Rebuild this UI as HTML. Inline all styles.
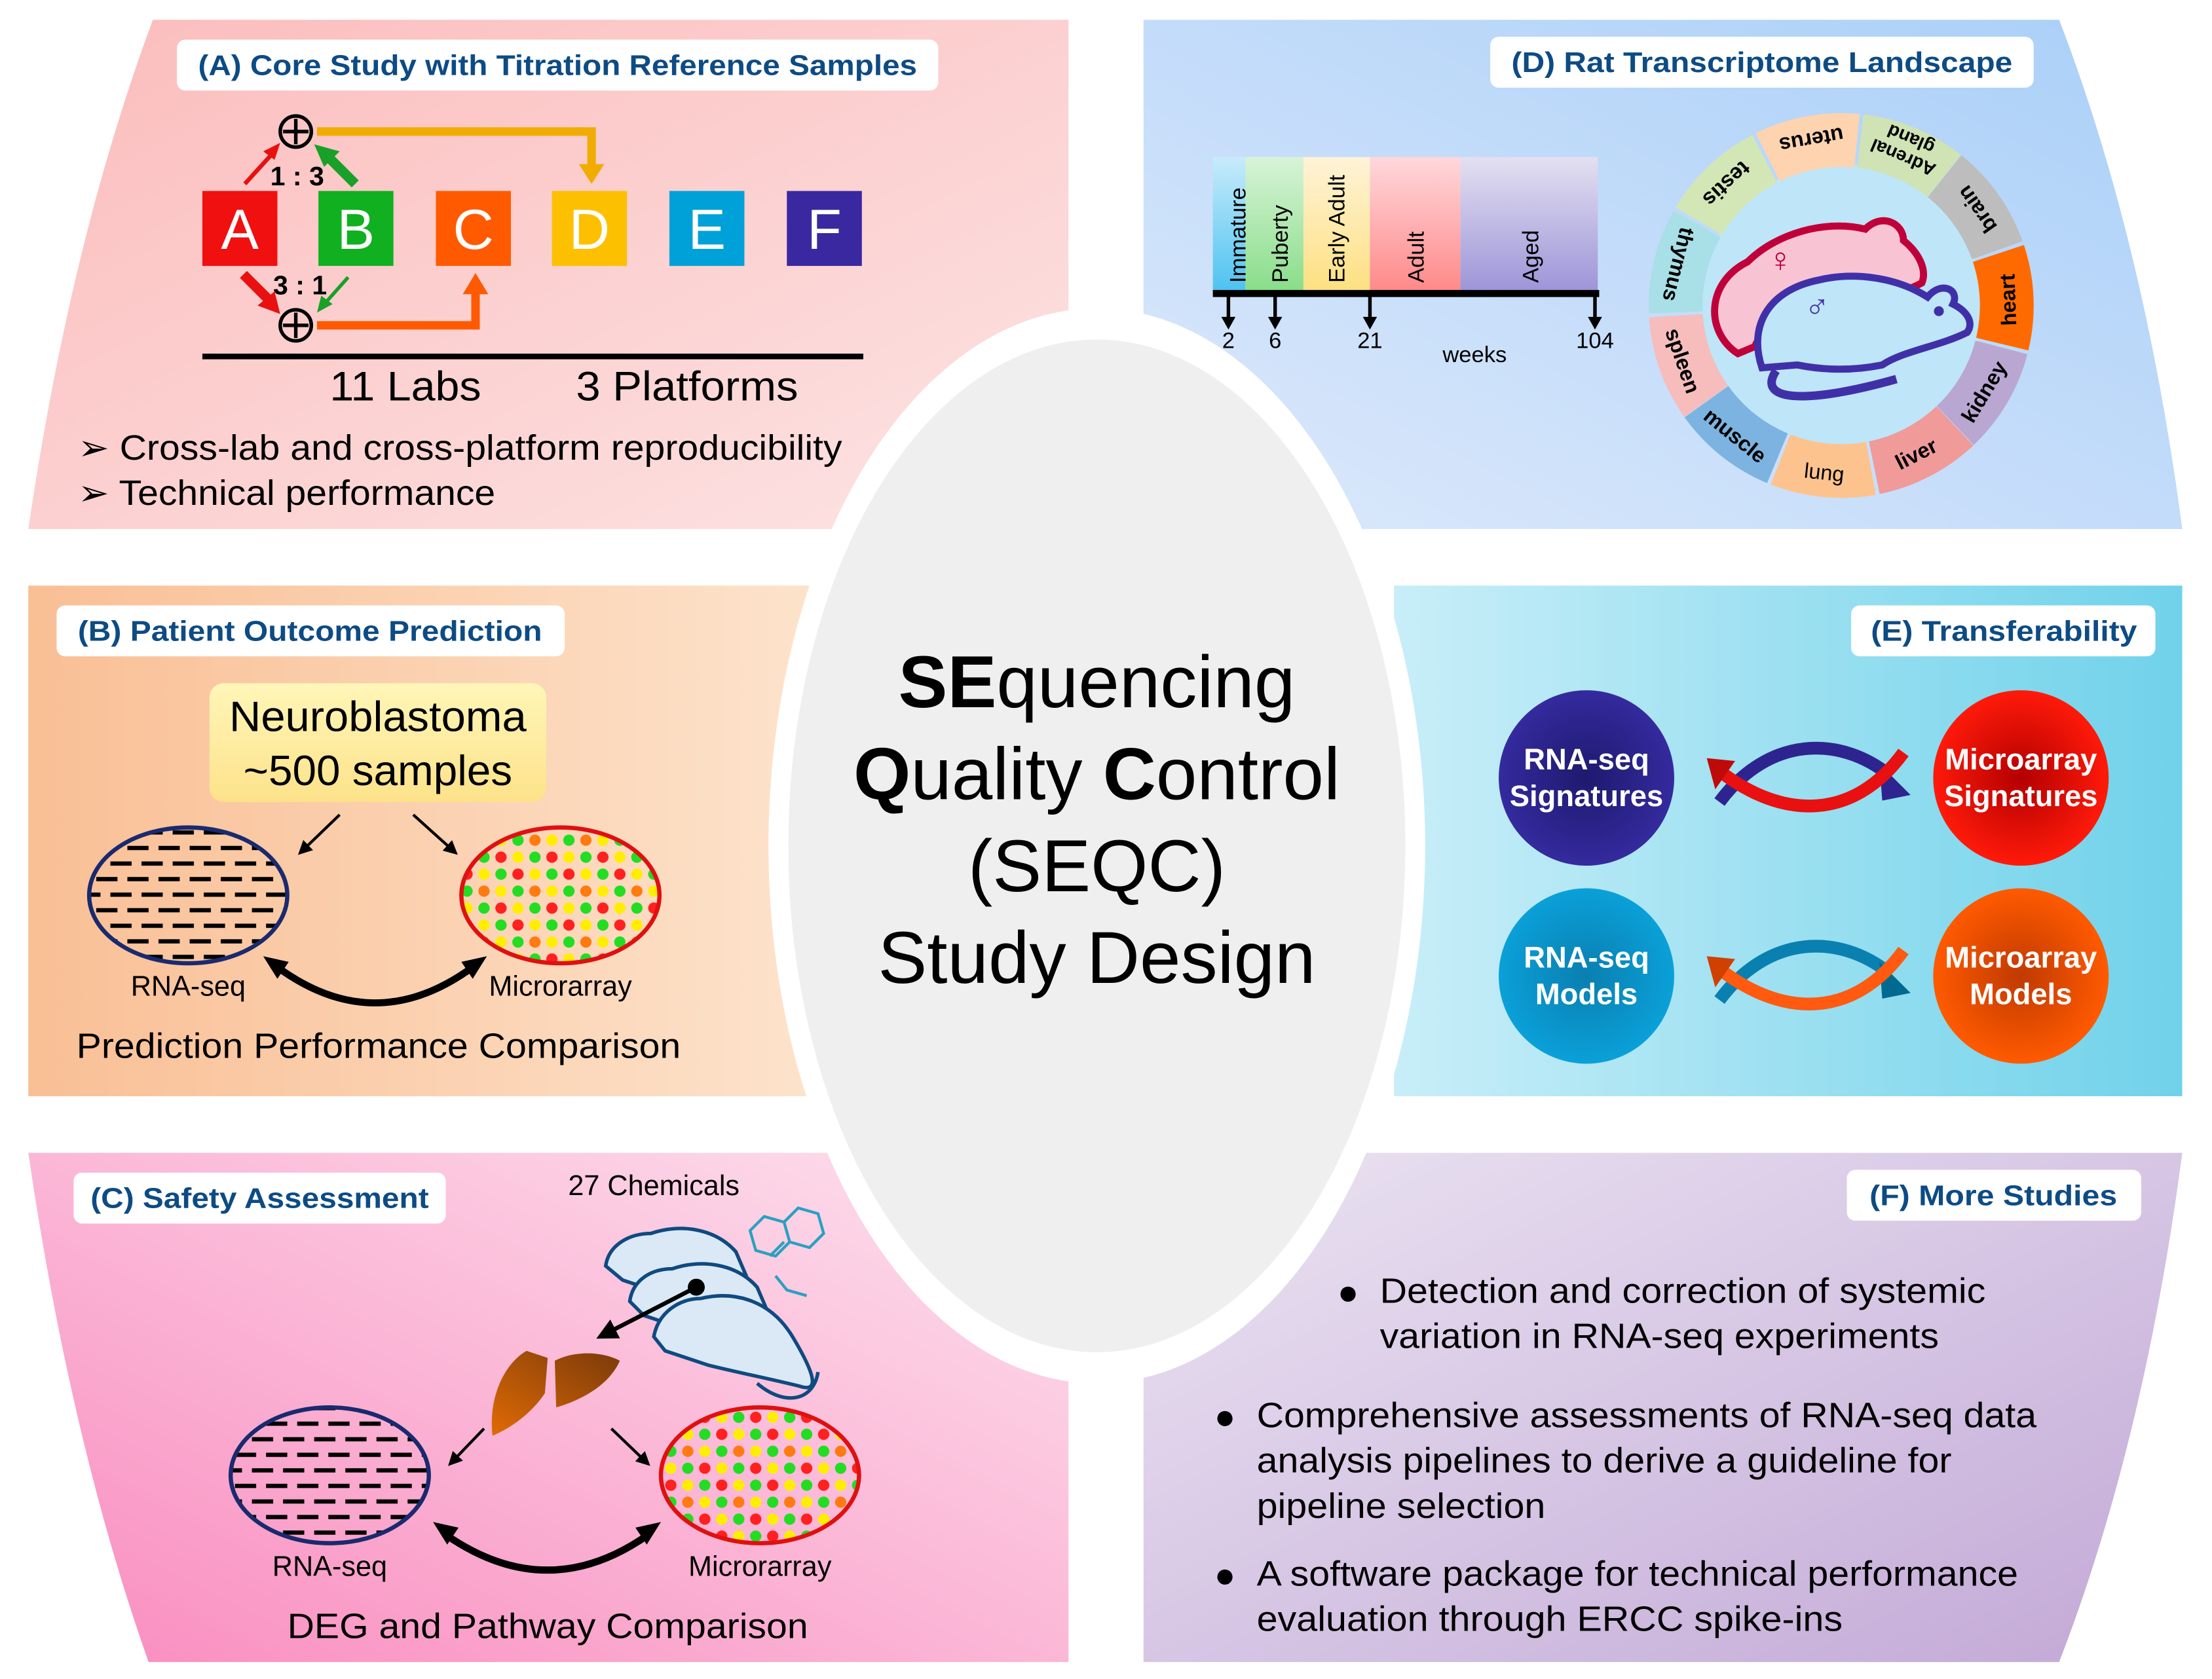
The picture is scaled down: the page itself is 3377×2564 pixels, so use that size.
<!DOCTYPE html>
<html><head><meta charset="utf-8">
<style>
html,body{margin:0;padding:0;background:#fff;}
svg{display:block;}
text{font-family:"Liberation Sans",Arial,sans-serif;}
</style></head>
<body>
<svg width="3377" height="2564" viewBox="0 0 1563 1187" preserveAspectRatio="none" xmlns="http://www.w3.org/2000/svg">
<defs>
<linearGradient id="gA" x1="0" y1="0" x2="1" y2="1"><stop offset="0" stop-color="#fbbcbc"/><stop offset="1" stop-color="#fde4e4"/></linearGradient>
<linearGradient id="gD" x1="1" y1="0" x2="0" y2="1"><stop offset="0" stop-color="#a9cff8"/><stop offset="1" stop-color="#dde9fb"/></linearGradient>
<linearGradient id="gB" x1="0" y1="0" x2="1" y2="0"><stop offset="0" stop-color="#f9bf95"/><stop offset="1" stop-color="#fde3cc"/></linearGradient>
<linearGradient id="gE" x1="0" y1="0" x2="1" y2="0"><stop offset="0" stop-color="#c8eef8"/><stop offset="1" stop-color="#70d2ea"/></linearGradient>
<linearGradient id="gC" x1="0" y1="1" x2="1" y2="0"><stop offset="0" stop-color="#f98cbf"/><stop offset="1" stop-color="#fde2ee"/></linearGradient>
<linearGradient id="gF" x1="0" y1="0" x2="1" y2="1"><stop offset="0" stop-color="#ebe4f2"/><stop offset="1" stop-color="#c2a8d6"/></linearGradient>
<linearGradient id="gY" x1="0" y1="0" x2="0" y2="1"><stop offset="0" stop-color="#fff6b8"/><stop offset="1" stop-color="#fde28a"/></linearGradient>
<radialGradient id="rN"><stop offset="0" stop-color="#1e1a6e"/><stop offset="1" stop-color="#342a9e"/></radialGradient>
<radialGradient id="rR"><stop offset="0" stop-color="#b30000"/><stop offset="1" stop-color="#ff1a0a"/></radialGradient>
<radialGradient id="rB"><stop offset="0" stop-color="#0a7fb0"/><stop offset="1" stop-color="#0aa0d8"/></radialGradient>
<radialGradient id="rO"><stop offset="0" stop-color="#c03a00"/><stop offset="1" stop-color="#ff5a00"/></radialGradient>
<linearGradient id="gLiv" x1="0" y1="1" x2="1" y2="0"><stop offset="0" stop-color="#e06a05"/><stop offset="1" stop-color="#7a3a0a"/></linearGradient>
<pattern id="dash2" width="22" height="22" patternUnits="userSpaceOnUse"><rect x="2" y="4" width="15" height="3" fill="#000"/><rect x="12" y="15" width="15" height="3" fill="#000"/><rect x="-10" y="15" width="15" height="3" fill="#000"/></pattern>
<pattern id="dots" width="36" height="36" patternUnits="userSpaceOnUse">
<circle cx="6" cy="6" r="4" fill="#ff2020"/><circle cx="18" cy="6" r="4" fill="#ffee00"/><circle cx="30" cy="6" r="4" fill="#22dd22"/>
<circle cx="6" cy="18" r="4" fill="#22dd22"/><circle cx="18" cy="18" r="4" fill="#ff7a10"/><circle cx="30" cy="18" r="4" fill="#ffee00"/>
<circle cx="6" cy="30" r="4" fill="#ffee00"/><circle cx="18" cy="30" r="4" fill="#22dd22"/><circle cx="30" cy="30" r="4" fill="#ff2020"/>
</pattern>
<marker id="ah" viewBox="0 0 10 10" refX="8" refY="5" markerWidth="5" markerHeight="5" orient="auto"><path d="M0,0 L10,5 L0,10 z" fill="#000"/></marker>
</defs>

<!-- panels -->
<path d="M108,14 L755,14 L755,374 L20,374 Q50,170 108,14 Z" fill="url(#gA)"/>
<path d="M808,14 L1455,14 Q1515,170 1542,374 L808,374 Z" fill="url(#gD)"/>
<rect x="20" y="414" width="560" height="361" fill="url(#gB)"/>
<rect x="985" y="414" width="557" height="361" fill="url(#gE)"/>
<path d="M20,815 L755,815 L755,1175 L105,1175 Q50,1020 20,815 Z" fill="url(#gC)"/>
<path d="M808,815 L1542,815 Q1515,1020 1455,1175 L808,1175 Z" fill="url(#gF)"/>
<!-- center ellipses -->
<ellipse cx="775" cy="598" rx="232" ry="380" fill="#fff"/>
<ellipse cx="775" cy="598" rx="218" ry="358" fill="#efefef"/>

<!-- titles -->
<g font-weight="bold" font-size="20" fill="#0d4b84">
<rect x="125" y="28" width="538" height="36" rx="6" fill="#fff"/>
<text x="140" y="53" textLength="508" lengthAdjust="spacingAndGlyphs">(A) Core Study with Titration Reference Samples</text>
<rect x="1053" y="26" width="384" height="36" rx="6" fill="#fff"/>
<text x="1068" y="51" textLength="354" lengthAdjust="spacingAndGlyphs">(D) Rat Transcriptome Landscape</text>
<rect x="40" y="428" width="359" height="36" rx="6" fill="#fff"/>
<text x="55" y="453" textLength="328" lengthAdjust="spacingAndGlyphs">(B) Patient Outcome Prediction</text>
<rect x="1308" y="428" width="215" height="36" rx="6" fill="#fff"/>
<text x="1322" y="453" textLength="188" lengthAdjust="spacingAndGlyphs">(E) Transferability</text>
<rect x="52" y="829" width="263" height="36" rx="6" fill="#fff"/>
<text x="64" y="854" textLength="239" lengthAdjust="spacingAndGlyphs">(C) Safety Assessment</text>
<rect x="1305" y="827" width="208" height="36" rx="6" fill="#fff"/>
<text x="1321" y="852" textLength="175" lengthAdjust="spacingAndGlyphs">(F) More Studies</text>
</g>

<!-- Panel A -->
<g>
<rect x="143" y="135" width="53" height="53" fill="#f01010"/>
<rect x="225" y="135" width="53" height="53" fill="#10b020"/>
<rect x="308" y="135" width="53" height="53" fill="#ff5a00"/>
<rect x="390" y="135" width="53" height="53" fill="#fcc000"/>
<rect x="473" y="135" width="53" height="53" fill="#00a0d8"/>
<rect x="556" y="135" width="53" height="53" fill="#3a28a0"/>
<g fill="#fff" font-size="40" text-anchor="middle">
<text x="169.5" y="176">A</text><text x="251.5" y="176">B</text><text x="334.5" y="176">C</text>
<text x="416.5" y="176">D</text><text x="499.5" y="176">E</text><text x="582.5" y="176">F</text></g>
<polyline points="224,93 418,93 418,118" fill="none" stroke="#f0ac00" stroke-width="6"/>
<polygon points="409,116 427,116 418,130" fill="#f0ac00"/>
<polyline points="224,230 336,230 336,205" fill="none" stroke="#ff5a00" stroke-width="6"/>
<polygon points="327,208 345,208 336,193" fill="#ff5a00"/>
<circle cx="209" cy="93" r="11" fill="none" stroke="#000" stroke-width="2.5"/>
<path d="M200,93h18M209,84v18" stroke="#000" stroke-width="2.5"/>
<circle cx="209" cy="230" r="11" fill="none" stroke="#000" stroke-width="2.5"/>
<path d="M200,230h18M209,221v18" stroke="#000" stroke-width="2.5"/>
<line x1="173" y1="130" x2="193" y2="108" stroke="#e81010" stroke-width="3"/><polygon points="198,101 186,107 194,113" fill="#e81010"/>
<line x1="251" y1="130" x2="233" y2="112" stroke="#18a028" stroke-width="7"/><polygon points="222,102 240,107 229,118" fill="#18a028"/>
<line x1="172" y1="194" x2="192" y2="214" stroke="#e81010" stroke-width="7"/><polygon points="198,222 182,216 194,206" fill="#e81010"/>
<line x1="246" y1="196" x2="230" y2="214" stroke="#18a028" stroke-width="2.5"/><polygon points="224,221 227,209 235,215" fill="#18a028"/>
<text x="210" y="131" font-size="19" font-weight="bold" text-anchor="middle">1 : 3</text>
<text x="212" y="208" font-size="19" font-weight="bold" text-anchor="middle">3 : 1</text>
<rect x="143" y="250" width="467" height="4" fill="#000"/>
<text x="233" y="283" font-size="29" textLength="107" lengthAdjust="spacingAndGlyphs">11 Labs</text>
<text x="407" y="283" font-size="29" textLength="157" lengthAdjust="spacingAndGlyphs">3 Platforms</text>
<text x="55" y="325" font-size="25" textLength="540" lengthAdjust="spacingAndGlyphs">➢ Cross-lab and cross-platform reproducibility</text>
<text x="55" y="357" font-size="25" textLength="295" lengthAdjust="spacingAndGlyphs">➢ Technical performance</text>
</g>

<!-- Panel D timeline -->
<g>
<defs>
<linearGradient id="t1" x1="0" y1="0" x2="0" y2="1"><stop offset="0" stop-color="#c8ebfb"/><stop offset="1" stop-color="#4cc2f0"/></linearGradient>
<linearGradient id="t2" x1="0" y1="0" x2="0" y2="1"><stop offset="0" stop-color="#d8f3d8"/><stop offset="1" stop-color="#88dd88"/></linearGradient>
<linearGradient id="t3" x1="0" y1="0" x2="0" y2="1"><stop offset="0" stop-color="#fff3d8"/><stop offset="1" stop-color="#fde080"/></linearGradient>
<linearGradient id="t4" x1="0" y1="0" x2="0" y2="1"><stop offset="0" stop-color="#ffd8dc"/><stop offset="1" stop-color="#ff8888"/></linearGradient>
<linearGradient id="t5" x1="0" y1="0" x2="0" y2="1"><stop offset="0" stop-color="#e3e0f0"/><stop offset="1" stop-color="#9c94d8"/></linearGradient>
</defs>
<rect x="857" y="111" width="23" height="96" fill="url(#t1)"/>
<rect x="880" y="111" width="41" height="96" fill="url(#t2)"/>
<rect x="921" y="111" width="47" height="96" fill="url(#t3)"/>
<rect x="968" y="111" width="64" height="96" fill="url(#t4)"/>
<rect x="1032" y="111" width="97" height="96" fill="url(#t5)"/>
<g font-size="16" fill="#000">
<text transform="translate(880,200) rotate(-90)">Immature</text>
<text transform="translate(910,200) rotate(-90)">Puberty</text>
<text transform="translate(950,200) rotate(-90)">Early Adult</text>
<text transform="translate(1006,200) rotate(-90)">Adult</text>
<text transform="translate(1087,200) rotate(-90)">Aged</text>
</g>
<rect x="857" y="205" width="273" height="5" fill="#000"/>
<g stroke="#000" stroke-width="2.5"><line x1="868" y1="208" x2="868" y2="226"/><line x1="901" y1="208" x2="901" y2="226"/><line x1="968" y1="208" x2="968" y2="226"/><line x1="1127" y1="208" x2="1127" y2="226"/></g>
<g fill="#000"><polygon points="863,224 873,224 868,233"/><polygon points="896,224 906,224 901,233"/><polygon points="963,224 973,224 968,233"/><polygon points="1122,224 1132,224 1127,233"/></g>
<g font-size="16" text-anchor="middle"><text x="868" y="246">2</text><text x="901" y="246">6</text><text x="968" y="246">21</text><text x="1127" y="246">104</text><text x="1042" y="256">weeks</text></g>
</g>

<!-- ring -->
<g>
<circle cx="1301" cy="216" r="100" fill="#bfe5f8"/>
<g fill="none" stroke-width="38">
<circle cx="1301" cy="216" r="117" stroke="#fdd3b0" stroke-dasharray="65 700" transform="rotate(-116.35 1301 216)"/>
<circle cx="1301" cy="216" r="117" stroke="#cfe3b5" stroke-dasharray="65 700" transform="rotate(-83.35 1301 216)"/>
<circle cx="1301" cy="216" r="117" stroke="#bdbdbd" stroke-dasharray="65 700" transform="rotate(-51.35 1301 216)"/>
<circle cx="1301" cy="216" r="117" stroke="#ff6a00" stroke-dasharray="65 700" transform="rotate(-18.35 1301 216)"/>
<circle cx="1301" cy="216" r="117" stroke="#b9a7d2" stroke-dasharray="65 700" transform="rotate(14.65 1301 216)"/>
<circle cx="1301" cy="216" r="117" stroke="#f09a9a" stroke-dasharray="65 700" transform="rotate(46.65 1301 216)"/>
<circle cx="1301" cy="216" r="117" stroke="#fdc38e" stroke-dasharray="65 700" transform="rotate(79.65 1301 216)"/>
<circle cx="1301" cy="216" r="117" stroke="#7cb3e0" stroke-dasharray="65 700" transform="rotate(112.65 1301 216)"/>
<circle cx="1301" cy="216" r="117" stroke="#f7bcbc" stroke-dasharray="65 700" transform="rotate(144.65 1301 216)"/>
<circle cx="1301" cy="216" r="117" stroke="#a9dfe6" stroke-dasharray="65 700" transform="rotate(177.65 1301 216)"/>
<circle cx="1301" cy="216" r="117" stroke="#d3e6b6" stroke-dasharray="65 700" transform="rotate(210.65 1301 216)"/>
</g>
<g font-size="15" font-weight="bold" text-anchor="middle" dominant-baseline="central">
<text transform="translate(1280,99) rotate(-190)">uterus</text>
<text transform="translate(1347,106) rotate(-157)" font-size="13"><tspan x="0" dy="-6">Adrenal</tspan><tspan x="0" dy="14">gland</tspan></text>
<text transform="translate(1397,148) rotate(-125)">brain</text>
<text transform="translate(1419,212) rotate(-92)">heart</text>
<text transform="translate(1402,277) rotate(-59)">kidney</text>
<text transform="translate(1354,321) rotate(-27)">liver</text>
<text transform="translate(1289,334) rotate(6)" font-weight="normal">lung</text>
<text transform="translate(1226,308) rotate(39)">muscle</text>
<text transform="translate(1189,255) rotate(71)">spleen</text>
<text transform="translate(1186,187) rotate(104)">thymus</text>
<text transform="translate(1220,130) rotate(137)">testis</text>
</g>
<!-- rats -->
<path d="M1228,250 C1205,235 1205,200 1235,185 C1255,165 1290,155 1318,162 C1330,150 1345,158 1345,170 C1355,178 1362,190 1358,200 C1340,210 1310,212 1290,218 C1270,224 1245,230 1240,245 Z" fill="#f8c4d4" stroke="#c0003a" stroke-width="5"/>
<text x="1258" y="192" font-size="24" fill="#c0003a" text-anchor="middle">♀</text>
<path d="M1245,260 C1235,230 1250,205 1285,198 C1310,192 1340,196 1362,210 C1372,198 1385,205 1380,215 C1390,220 1395,228 1390,235 C1370,245 1345,248 1330,258 C1310,262 1290,262 1270,258 Z" fill="#bfe5f8" stroke="#4030a8" stroke-width="5"/>
<path d="M1255,262 C1240,285 1280,285 1340,268" fill="none" stroke="#4030a8" stroke-width="6"/>
<text x="1284" y="225" font-size="24" fill="#4030a8" text-anchor="middle">♂</text>
<circle cx="1370" cy="220" r="3.5" fill="#4030a8"/>
</g>

<!-- center text -->
<g font-size="52" text-anchor="middle" fill="#000">
<text x="775" y="500"><tspan font-weight="bold">SE</tspan>quencing</text>
<text x="775" y="565"><tspan font-weight="bold">Q</tspan>uality <tspan font-weight="bold">C</tspan>ontrol</text>
<text x="775" y="630">(SEQC)</text>
<text x="775" y="695">Study Design</text>
</g>

<!-- Panel B -->
<g>
<rect x="148" y="483" width="238" height="84" rx="10" fill="url(#gY)"/>
<text x="162" y="517" font-size="30" textLength="210" lengthAdjust="spacingAndGlyphs">Neuroblastoma</text>
<text x="172" y="555" font-size="30" textLength="190" lengthAdjust="spacingAndGlyphs">~500 samples</text>
<line x1="240" y1="576" x2="212" y2="603" stroke="#000" stroke-width="2" marker-end="url(#ah)"/>
<line x1="292" y1="576" x2="322" y2="603" stroke="#000" stroke-width="2" marker-end="url(#ah)"/>
<ellipse cx="133" cy="633" rx="70" ry="48" fill="url(#dash2)" stroke="#1a2a6e" stroke-width="3"/>
<ellipse cx="396" cy="633" rx="70" ry="48" fill="url(#dots)" stroke="#e01010" stroke-width="3"/>
<text x="133" y="704" font-size="20" text-anchor="middle">RNA-seq</text>
<text x="396" y="704" font-size="20" text-anchor="middle">Microrarray</text>
<path d="M195,683 Q265,735 335,683" fill="none" stroke="#000" stroke-width="5"/>
<polygon points="186,676 204,680 196,692" fill="#000"/><polygon points="344,676 326,680 334,692" fill="#000"/>
<text x="54" y="748" font-size="25" textLength="427" lengthAdjust="spacingAndGlyphs">Prediction Performance Comparison</text>
</g>

<!-- Panel E -->
<g>
<circle cx="1121" cy="550" r="62" fill="url(#rN)"/>
<circle cx="1428" cy="550" r="62" fill="url(#rR)"/>
<circle cx="1121" cy="690" r="62" fill="url(#rB)"/>
<circle cx="1428" cy="690" r="62" fill="url(#rO)"/>
<g fill="#fff" font-weight="bold" font-size="21" text-anchor="middle">
<text x="1121" y="544">RNA-seq</text><text x="1121" y="570">Signatures</text>
<text x="1428" y="544">Microarray</text><text x="1428" y="570">Signatures</text>
<text x="1121" y="684">RNA-seq</text><text x="1121" y="710">Models</text>
<text x="1428" y="684">Microarray</text><text x="1428" y="710">Models</text>
</g>
<path d="M1215,567 C1250,520 1300,520 1335,548" fill="none" stroke="#2e2490" stroke-width="9"/>
<polygon points="1328,540 1350,562 1330,566" fill="#2e2490"/>
<path d="M1345,532 C1310,580 1260,580 1215,545" fill="none" stroke="#e81010" stroke-width="9"/>
<polygon points="1206,536 1226,538 1212,558" fill="#c00a0a"/>
<path d="M1215,707 C1250,660 1300,660 1335,688" fill="none" stroke="#0a80b0" stroke-width="9"/>
<polygon points="1328,680 1350,702 1330,706" fill="#006a90"/>
<path d="M1345,672 C1310,720 1260,720 1215,685" fill="none" stroke="#ff5a10" stroke-width="9"/>
<polygon points="1206,676 1226,678 1212,698" fill="#d04000"/>
</g>

<!-- Panel C -->
<g>
<text x="462" y="845" font-size="20" text-anchor="middle">27 Chemicals</text>
<g fill="#dbe9f6" stroke="#0f4a80" stroke-width="2.5">
<path d="M428,895 C430,880 445,872 460,872 C480,865 505,868 520,885 L535,920 L500,925 L440,905 Z"/>
<path d="M445,920 C447,905 460,897 475,897 C495,890 520,893 535,910 L550,945 L515,950 L455,930 Z"/>
<path d="M462,945 C465,928 480,918 495,918 C520,912 545,920 560,945 C575,970 580,985 565,980 C545,975 520,970 500,965 L470,955 Z"/>
<path d="M535,978 C555,995 575,990 578,970" fill="none"/>
</g>
<g stroke="#2aa0c0" stroke-width="2" fill="none">
<path d="M530,870 l10,-10 l14,4 l4,14 l-10,10 l-14,-4 z M554,864 l10,-10 l14,4 l4,14 l-10,10 l-14,-4z M544,888 l10,-10 M548,902 l8,10 l14,4"/>
</g>
<circle cx="492" cy="910" r="6" fill="#000"/>
<line x1="492" y1="910" x2="424" y2="945" stroke="#000" stroke-width="3" marker-end="url(#ah)"/>
<path d="M372,955 C355,965 345,990 348,1015 C360,1010 375,1000 385,985 L387,960 Z M392,962 L393,995 C410,990 430,980 438,962 C425,955 405,955 392,962Z" fill="url(#gLiv)"/>
<line x1="342" y1="1010" x2="318" y2="1035" stroke="#000" stroke-width="2" marker-end="url(#ah)"/>
<line x1="432" y1="1010" x2="458" y2="1035" stroke="#000" stroke-width="2" marker-end="url(#ah)"/>
<ellipse cx="233" cy="1043" rx="70" ry="48" fill="url(#dash2)" stroke="#1a2a6e" stroke-width="3"/>
<ellipse cx="537" cy="1043" rx="70" ry="48" fill="url(#dots)" stroke="#e01010" stroke-width="3"/>
<text x="233" y="1114" font-size="20" text-anchor="middle">RNA-seq</text>
<text x="537" y="1114" font-size="20" text-anchor="middle">Microrarray</text>
<path d="M315,1085 Q387,1135 458,1085" fill="none" stroke="#000" stroke-width="5"/>
<polygon points="306,1076 324,1080 316,1092" fill="#000"/><polygon points="467,1076 449,1080 457,1092" fill="#000"/>
<text x="203" y="1158" font-size="25" textLength="368" lengthAdjust="spacingAndGlyphs">DEG and Pathway Comparison</text>
</g>

<!-- Panel F -->
<g font-size="25">
<text x="945" y="922">●</text><text x="975" y="921" textLength="428" lengthAdjust="spacingAndGlyphs">Detection and correction of systemic</text>
<text x="975" y="953" textLength="395" lengthAdjust="spacingAndGlyphs">variation in RNA-seq experiments</text>
<text x="858" y="1010">●</text><text x="888" y="1009" textLength="551" lengthAdjust="spacingAndGlyphs">Comprehensive assessments of RNA-seq data</text>
<text x="888" y="1041" textLength="491" lengthAdjust="spacingAndGlyphs">analysis pipelines to derive a guideline for</text>
<text x="888" y="1073" textLength="204" lengthAdjust="spacingAndGlyphs">pipeline selection</text>
<text x="858" y="1122">●</text><text x="888" y="1121" textLength="538" lengthAdjust="spacingAndGlyphs">A software package for technical performance</text>
<text x="888" y="1153" textLength="414" lengthAdjust="spacingAndGlyphs">evaluation through ERCC spike-ins</text>
</g>
</svg>
</body></html>
